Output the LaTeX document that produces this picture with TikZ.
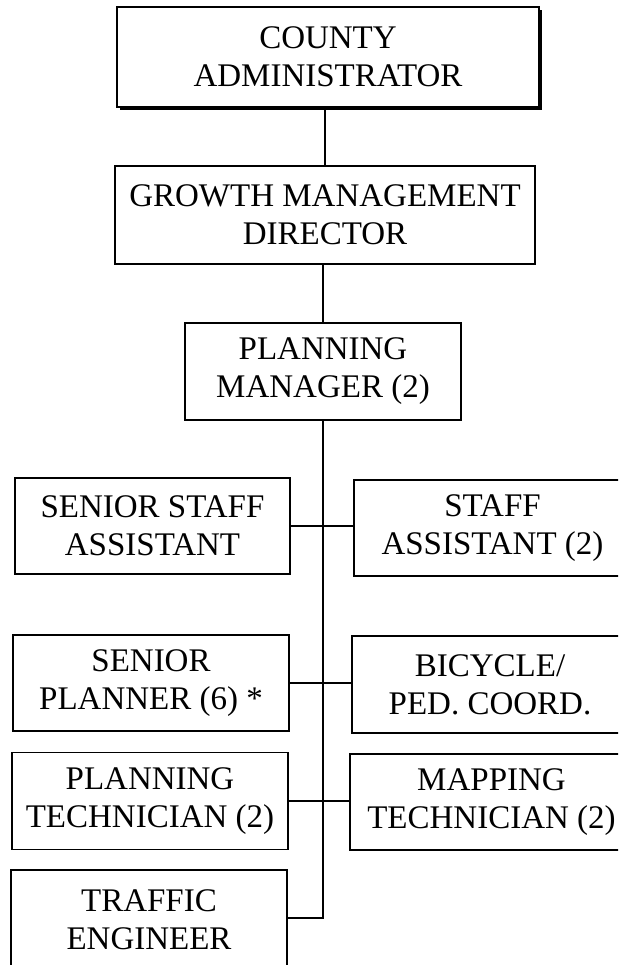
\documentclass[tikz,border=0pt]{standalone}
\usepackage{fontspec}
\setmainfont{Liberation Serif}
\usetikzlibrary{shadows}
\begin{document}
\begin{tikzpicture}[x=1pt,y=-1pt,
  orgbox/.style={draw=black, line width=1.6pt, fill=white, align=center,
    inner sep=0pt, font=\fontsize{33}{38}\selectfont},
  link/.style={draw=black, line width=1.6pt},
  shadowed/.style={drop shadow={shadow xshift=3pt, shadow yshift=-3pt, fill=black, opacity=1}}]
\useasboundingbox (0,0) rectangle (618,965);
\clip (0,0) rectangle (618,965);

% top of the hierarchy
\node[orgbox, shadowed, minimum width=422pt, minimum height=100pt] (county) at (328,57) {COUNTY\\ADMINISTRATOR};
\node[orgbox, minimum width=420pt, minimum height=98pt] (growth) at (325,215) {GROWTH MANAGEMENT\\DIRECTOR};
\node[orgbox, minimum width=276pt, minimum height=97pt] (pm) at (323,371.5) {PLANNING\\MANAGER (2)};

% staff under the planning manager, left column
\node[orgbox, minimum width=275pt, minimum height=96pt] (ssa) at (152.5,526) {SENIOR STAFF\\ASSISTANT};
\node[orgbox, minimum width=276pt, minimum height=96pt] (sp) at (151,683) {SENIOR\\PLANNER (6) *};
\node[orgbox, minimum width=276pt, minimum height=97pt] (pt) at (150,801) {PLANNING\\TECHNICIAN (2)};
\node[orgbox, minimum width=276pt, minimum height=100pt] (te) at (149,920) {TRAFFIC\\ENGINEER};

% right column
\node[orgbox, minimum width=277pt, minimum height=96pt] (sa) at (492.5,528) {STAFF\\ASSISTANT (2)};
\node[orgbox, minimum width=276pt, minimum height=97pt] (bic) at (490,684.5) {BICYCLE/\\PED. COORD.};
\node[orgbox, minimum width=283pt, minimum height=96pt] (map) at (491.5,802) {MAPPING\\TECHNICIAN (2)};

% connectors
\coordinate (teport) at ([yshift=2pt]te.east);
\draw[link] (growth.north) -- (growth.north |- county.south);
\draw[link] (pm.north) -- (pm.north |- growth.south);
\draw[link] (pm.south) |- (teport);
\draw[link] (ssa.east) -- (ssa.east -| sa.west);
\draw[link] (sp.east) -- (sp.east -| bic.west);
\draw[link] (pt.east) -- (pt.east -| map.west);
\end{tikzpicture}
\end{document}
